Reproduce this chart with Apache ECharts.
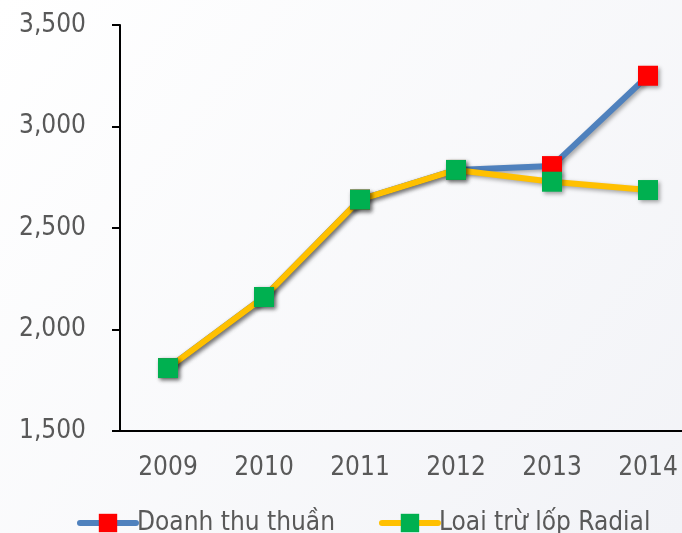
<!DOCTYPE html>
<html>
<head>
<meta charset="utf-8">
<script src="https://cdn.jsdelivr.net/npm/echarts@6/dist/echarts.min.js"></script>
<style>
  html, body { margin: 0; padding: 0; }
  #chart { width: 682px; height: 533px; }
</style>
</head>
<body>
<div id="chart"></div>
<script>
// năm
var years = ["2009", "2010", "2011", "2012", "2013", "2014"];
var doanhThu = [1810, 2160, 2640, 2786, 2805, 3250];
var loaiTru = [1810, 2160, 2640, 2786, 2728, 2687];
var yTicks = [1500, 3500, 500]; // min, max, interval

var font = "DejaVu Sans Condensed";
var chart = echarts.init(document.getElementById("chart"));

var shadow = {
  shadowColor: "rgba(0,0,0,0.35)",
  shadowBlur: 4,
  shadowOffsetX: 2,
  shadowOffsetY: 2
};

chart.setOption({
  animation: false,
  backgroundColor: {
    type: "linear", x: 0, y: 0, x2: 1, y2: 1,
    colorStops: [
      { offset: 0, color: "#ffffff" },
      { offset: 1, color: "#f2f3f7" }
    ]
  },
  textStyle: { fontFamily: font },
  // khung vẽ rộng hơn khung ảnh (bị cắt bên phải)
  grid: { left: 120, top: 25, height: 406, width: 576, outerBoundsMode: "none" },
  legend: {
    left: 72,
    top: 505,
    itemWidth: 56,
    itemHeight: 23,
    itemGap: 44,
    lineStyle: { width: 6, cap: "round" },
    textStyle: { fontSize: 26, color: "#595959", fontFamily: font, padding: [0, 0, 0, -4] },
    data: ["Doanh thu thuần", "Loai trừ lốp Radial"]
  },
  xAxis: {
    type: "category",
    data: years,
    boundaryGap: true,
    axisLine: { lineStyle: { color: "#000", width: 2 } },
    axisTick: { length: 8, lineStyle: { color: "#000", width: 2 } },
    axisLabel: { fontSize: 26, color: "#595959", margin: 24 }
  },
  yAxis: {
    type: "value",
    min: yTicks[0],
    max: yTicks[1],
    interval: yTicks[2],
    axisLine: { show: true, lineStyle: { color: "#000", width: 2 } },
    axisTick: { show: true, length: 8, lineStyle: { color: "#000", width: 2 } },
    splitLine: { show: false },
    axisLabel: {
      fontSize: 26, color: "#595959", margin: 34,
      formatter: function (v) { return v.toLocaleString("en-US"); }
    }
  },
  series: [
    {
      name: "Doanh thu thuần",
      type: "line",
      data: doanhThu,
      symbol: "rect",
      symbolSize: 20,
      lineStyle: Object.assign({ color: "#4f81bd", width: 6 }, shadow),
      itemStyle: Object.assign({ color: "#ff0000" }, shadow)
    },
    {
      name: "Loai trừ lốp Radial",
      type: "line",
      data: loaiTru,
      symbol: "rect",
      symbolSize: 20,
      lineStyle: Object.assign({ color: "#ffc000", width: 6 }, shadow),
      itemStyle: Object.assign({ color: "#00b050" }, shadow)
    }
  ]
});
</script>
</body>
</html>
